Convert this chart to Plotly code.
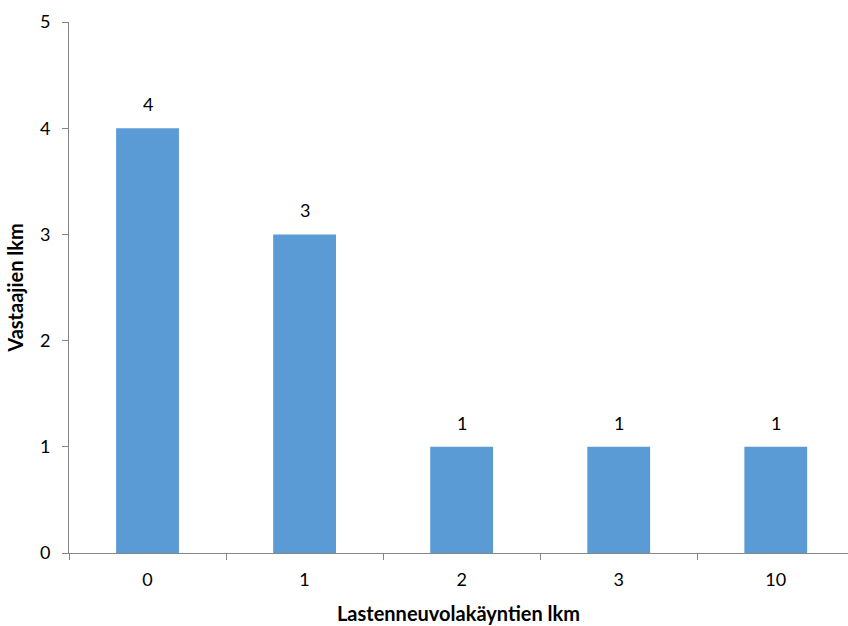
import plotly.graph_objects as go

# Number of child health clinic visits vs. number of respondents
visits = ["0", "1", "2", "3", "10"]
respondents = [4, 3, 1, 1, 1]
y_ticks = [0, 1, 2, 3, 4, 5]

BAR_COLOR = "#5B9BD5"
AXIS_COLOR = "#868686"
FONT = "Lato, 'Open Sans', sans-serif"

fig = go.Figure()
fig.add_trace(go.Bar(
    x=visits,
    y=respondents,
    marker=dict(color=BAR_COLOR, line=dict(width=0)),
    width=0.4,
    hoverinfo="x+y",
))

# value labels above each bar (positioned by category index)
for i, n in enumerate(respondents):
    fig.add_annotation(
        x=i, y=n, text=str(n), showarrow=False,
        yshift=24, font=dict(family=FONT, size=18, color="#000000"),
    )

fig.update_layout(
    width=848, height=626,
    margin=dict(l=69, r=0, t=22, b=73),
    paper_bgcolor="white", plot_bgcolor="white",
    showlegend=False,
    bargap=0.6,
    font=dict(family=FONT, size=18, color="#000000"),
    xaxis=dict(
        type="category",
        categoryorder="array", categoryarray=visits,
        range=[-0.5, 4.46],
        showline=True, linecolor=AXIS_COLOR, linewidth=1,
        ticks="outside", tickson="boundaries", ticklen=6,
        tickcolor=AXIS_COLOR, tickwidth=1,
        showgrid=False, zeroline=False,
        ticklabelstandoff=10,
        title=dict(text="<b>Lastenneuvolakäyntien lkm</b>",
                   font=dict(family=FONT, size=20), standoff=18),
    ),
    yaxis=dict(
        range=[0, 5],
        tickvals=y_ticks,
        showline=True, linecolor=AXIS_COLOR, linewidth=1,
        ticks="outside", ticklen=6, tickcolor=AXIS_COLOR, tickwidth=1,
        showgrid=False, zeroline=False,
        ticklabelstandoff=8,
        title=dict(text="<b>Vastaajien lkm</b>",
                   font=dict(family=FONT, size=20), standoff=10),
    ),
)

fig.write_html("out.html")
